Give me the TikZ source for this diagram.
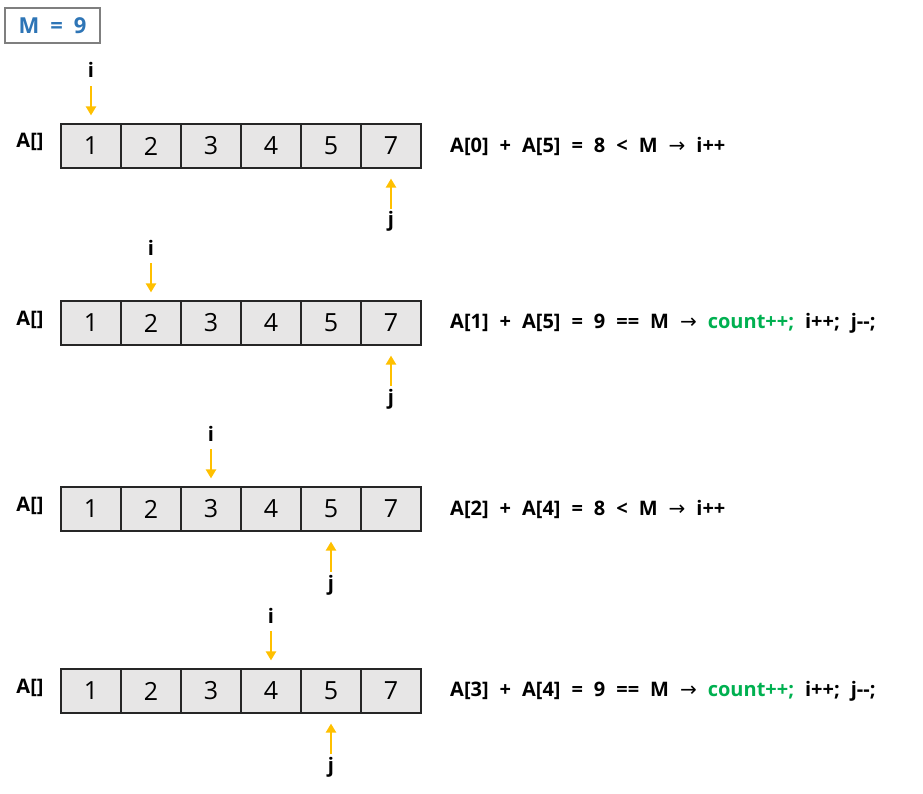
\documentclass[tikz,border=0pt]{standalone}
\usepackage{fontspec}
\setmainfont{Open Sans}
\newfontfamily\symfont{DejaVu Sans}
\usepackage{xcolor}
\usepackage{tikz}
\usetikzlibrary{arrows.meta,positioning}
\definecolor{cellgray}{HTML}{E7E6E6}
\definecolor{linedark}{HTML}{262626}
\definecolor{boxgray}{HTML}{7F7F7F}
\definecolor{ptrorange}{HTML}{FFC000}
\definecolor{mblue}{HTML}{2E75B6}
\definecolor{okgreen}{HTML}{00B050}
\newcommand{\rarr}{{\symfont\mdseries\char"2192}}
\newcommand{\dec}{\mbox{-}\mbox{-}}
\newcommand{\widesp}{\spaceskip=11pt\relax}
\tikzset{
  cell/.style={draw=linedark, line width=1.2pt, fill=cellgray, minimum width=60pt, minimum height=44pt, inner sep=0pt, font=\fontsize{25}{25}\selectfont},
  lbl/.style={font=\fontsize{20}{20}\selectfont\bfseries, inner sep=0pt, text height=14pt, text depth=4pt},
  ptr/.style={-{Triangle[length=9pt,width=10pt]}, draw=ptrorange, line width=2.5pt},
  cond/.style={anchor=west, font=\fontsize{20}{20}\selectfont\bfseries\widesp, inner sep=0pt},
  mbox/.style={draw=boxgray, line width=1.5pt, minimum width=95pt, minimum height=35pt, inner sep=0pt, text=mblue, font=\fontsize{22}{22}\selectfont\bfseries\widesp}
}

\begin{document}
\begin{tikzpicture}[x=1pt,y=-1pt]
  \useasboundingbox (0,0) rectangle (923,794);
  \node[mbox] (m) at (52.5,25.5) {M = 9};

  % one row per step of the two pointers
  \foreach \r/\y/\i/\j in {1/146/0/5, 2/323/1/5, 3/509/2/4, 4/691/3/4} {
    \node[lbl] (arr\r) at (30,\y-3) {A[]};
    \foreach \v [count=\k from 0] in {1,2,3,4,5,7}
      \node[cell] (r\r c\k) at (91+60*\k,\y) {\v};
    \node[lbl] (pi\r) at (91+60*\i,\y-73) {i};
    \node[lbl] (pj\r) at (91+60*\j,\y+76) {j};
    \draw[ptr, shorten <=4pt, shorten >=8pt] (pi\r) -- (r\r c\i);
    \draw[ptr, shorten <=4pt, shorten >=10pt] (pj\r) -- (r\r c\j);
  }

  \node[cond] (t1) at (450,146) {A[0] + A[5] = 8 < M \rarr\ i++};
  \node[cond] (t2) at (450,323) {A[1] + A[5] = 9 == M \rarr\ \textcolor{okgreen}{count++;} i++; j\dec;};
  \node[cond] (t3) at (450,509) {A[2] + A[4] = 8 < M \rarr\ i++};
  \node[cond] (t4) at (450,691) {A[3] + A[4] = 9 == M \rarr\ \textcolor{okgreen}{count++;} i++; j\dec;};
\end{tikzpicture}
\end{document}
